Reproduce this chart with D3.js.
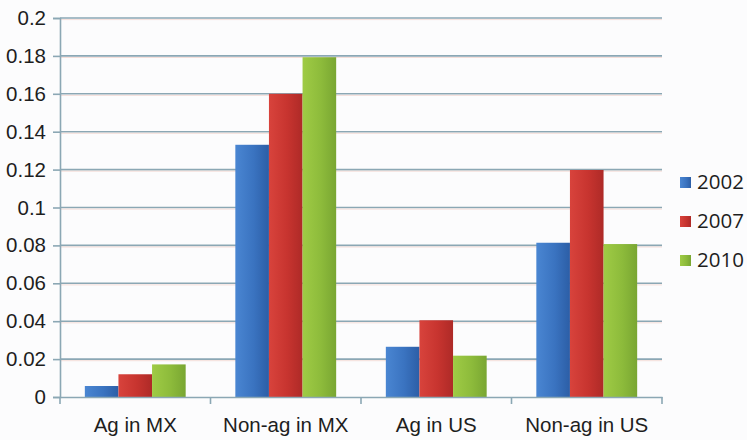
<!DOCTYPE html>
<html>
<head>
<meta charset="utf-8">
<script src="https://cdn.jsdelivr.net/npm/d3@7"></script>
<style>
  html, body { margin: 0; padding: 0; background: #fcfcfd; }
  svg { display: block; font-family: "Open Sans", Lato, sans-serif; }
</style>
</head>
<body>
<svg id="chart" width="747" height="440"></svg>
<script>
// Chart data
const categories = ["Ag in MX", "Non-ag in MX", "Ag in US", "Non-ag in US"];
const years = ["2002", "2007", "2010"];
const values2002 = [0.0058, 0.1331, 0.0265, 0.0814];
const values2007 = [0.0120, 0.1600, 0.0405, 0.1198];
const values2010 = [0.0172, 0.1793, 0.0218, 0.0807];
const yTicks = [0, 0.02, 0.04, 0.06, 0.08, 0.1, 0.12, 0.14, 0.16, 0.18, 0.2];
const tickLabels = ["0", "0.02", "0.04", "0.06", "0.08", "0.1", "0.12", "0.14", "0.16", "0.18", "0.2"];

const seriesValues = [values2002, values2007, values2010];
const colors = [
  { main: "#3a73c0", light: "#4a86d2", dark: "#2c5ea6" },
  { main: "#c7342f", light: "#d8433c", dark: "#ae2a27" },
  { main: "#8dbb3b", light: "#9fcb45", dark: "#79a632" }
];

const svg = d3.select("#chart");
const margin = { left: 60, right: 85, top: 18, bottom: 43 };
const W = 747, H = 440;
const plotW = W - margin.left - margin.right;
const plotH = H - margin.top - margin.bottom;
const fontSize = "20.5px";

const defs = svg.append("defs");
colors.forEach((c, i) => {
  const g = defs.append("linearGradient").attr("id", "grad" + i)
    .attr("x1", "0").attr("x2", "1").attr("y1", "0").attr("y2", "0");
  g.append("stop").attr("offset", "0%").attr("stop-color", c.light);
  g.append("stop").attr("offset", "55%").attr("stop-color", c.main);
  g.append("stop").attr("offset", "100%").attr("stop-color", c.dark);
});

const x0 = d3.scaleBand().domain(categories).range([0, plotW]).paddingInner(0).paddingOuter(0);
const x1 = d3.scaleBand().domain(years).range([x0.bandwidth() * 0.165, x0.bandwidth() * 0.835]).padding(0);
const y = d3.scaleLinear().domain([0, 0.2]).range([plotH, 0]);

const g = svg.append("g").attr("transform", `translate(${margin.left},${margin.top})`);

// Horizontal gridlines
g.append("g").selectAll("line").data(yTicks.slice(1)).join("line")
  .attr("x1", 0).attr("x2", plotW)
  .attr("y1", d => y(d)).attr("y2", d => y(d))
  .attr("stroke", "#8ba7b4").attr("stroke-width", 1.6);
g.append("g").selectAll("line").data(yTicks.slice(1)).join("line")
  .attr("x1", 0).attr("x2", plotW)
  .attr("y1", d => y(d) + 1.6).attr("y2", d => y(d) + 1.6)
  .attr("stroke", "#f3d6cf").attr("stroke-width", 0.8);

// Bars
const groups = g.append("g").selectAll("g").data(categories).join("g")
  .attr("transform", d => `translate(${x0(d)},0)`);
groups.selectAll("rect")
  .data((d, ci) => years.map((yr, si) => ({ yr, si, v: seriesValues[si][ci] })))
  .join("rect")
  .attr("x", d => x1(d.yr))
  .attr("width", x1.bandwidth())
  .attr("y", d => y(d.v))
  .attr("height", d => plotH - y(d.v))
  .attr("fill", d => `url(#grad${d.si})`);

// Y axis
const yAxis = d3.axisLeft(y).tickValues(yTicks)
  .tickFormat((d, i) => tickLabels[i]).tickSize(7).tickPadding(7);
const ya = g.append("g").call(yAxis);
ya.select(".domain").attr("stroke", "#8ba7b4").attr("stroke-width", 1.6);
ya.selectAll(".tick line").attr("stroke", "#8ba7b4").attr("stroke-width", 1.6);
ya.selectAll(".tick text").attr("fill", "#1e1e1e").style("font-size", fontSize);

// X axis
const xa = g.append("g").attr("transform", `translate(0,${plotH})`)
  .call(d3.axisBottom(x0).tickSize(0).tickPadding(20));
xa.select(".domain").attr("stroke", "#8ba7b4").attr("stroke-width", 1.6);
xa.selectAll(".tick text").attr("fill", "#1e1e1e").style("font-size", fontSize);
// Category boundary ticks
const bounds = categories.map(c => x0(c)).concat([plotW]);
xa.append("g").selectAll("line").data(bounds).join("line")
  .attr("x1", d => d).attr("x2", d => d).attr("y1", 0).attr("y2", 7)
  .attr("stroke", "#8ba7b4").attr("stroke-width", 1.6);

// Legend
const legend = svg.append("g").attr("transform", "translate(680,177)");
const items = legend.selectAll("g").data(years).join("g")
  .attr("transform", (d, i) => `translate(0,${i * 39})`);
items.append("rect").attr("width", 11).attr("height", 11)
  .attr("fill", (d, i) => `url(#grad${i})`);
items.append("text").attr("x", 17).attr("y", 12).text(d => d)
  .attr("fill", "#1e1e1e").style("font-size", fontSize);
</script>
</body>
</html>
